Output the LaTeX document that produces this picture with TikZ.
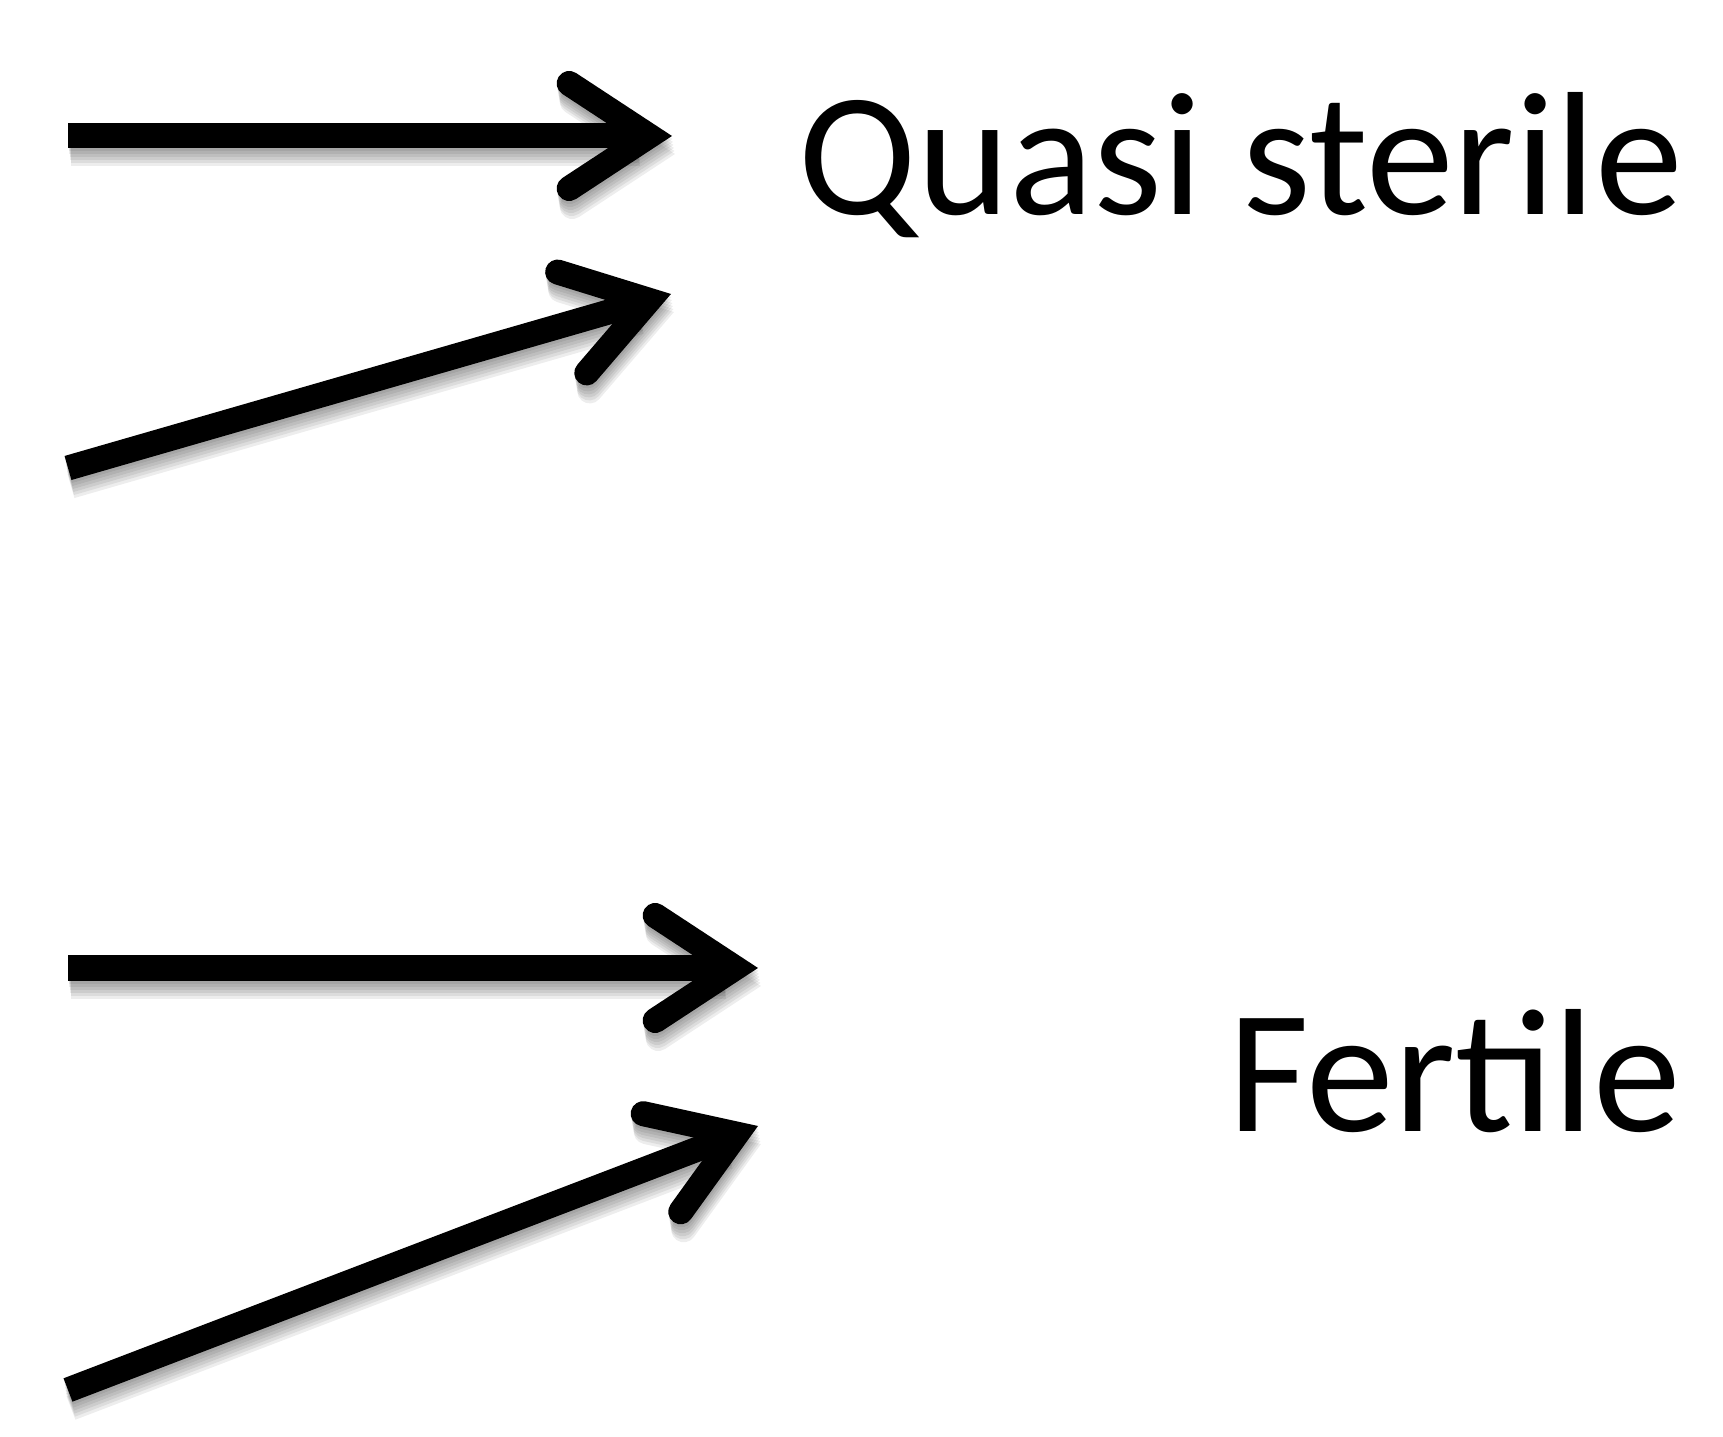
\documentclass[tikz,border=0pt]{standalone}
\usepackage{fontspec}
\setmainfont{Carlito}
\usetikzlibrary{arrows.meta}

\tikzset{
  bigarrow/.style={line width=0.25cm, line cap=butt,
    -{Straight Barb[length=0.8cm, width=1.05cm, line width=0pt 1, line cap=round]}},
  shadowarrow/.style={bigarrow, black, opacity=0.07},
  label/.style={font=\fontsize{50}{60}\selectfont, inner sep=0pt, anchor=base east}
}

\begin{document}
\begin{tikzpicture}[x=0.01cm, y=-0.01cm]
  \useasboundingbox (0,0) rectangle (1723,1437);
  % arrow ends
  \coordinate (qa) at (68,136);   \coordinate (qatip) at (672,136);
  \coordinate (qb) at (68,468);   \coordinate (qbtip) at (671,294);
  \coordinate (fa) at (68,968);   \coordinate (fatip) at (758,968);
  \coordinate (fb) at (68,1390);  \coordinate (fbtip) at (758,1126);
  % labels
  \node[label] (quasi) at (1684,215) {Quasi sterile};
  \node[label] (fert) at (1682,1132) {Fertile};
  % soft shadows
  \foreach \a/\b in {qa/qatip, qb/qbtip, fa/fatip, fb/fbtip} {
    \foreach \dx/\dy in {0.5/3, 1/6, 1.5/9, 2/12, 2.5/15, 3/18}
      \draw[shadowarrow, transform canvas={xshift=\dx*0.01cm, yshift=-\dy*0.01cm}] (\a) -- (\b);
  }
  % arrows
  \draw[bigarrow] (qa) -- (qatip);
  \draw[bigarrow] (qb) -- (qbtip);
  \draw[bigarrow] (fa) -- (fatip);
  \draw[bigarrow] (fb) -- (fbtip);
\end{tikzpicture}
\end{document}
